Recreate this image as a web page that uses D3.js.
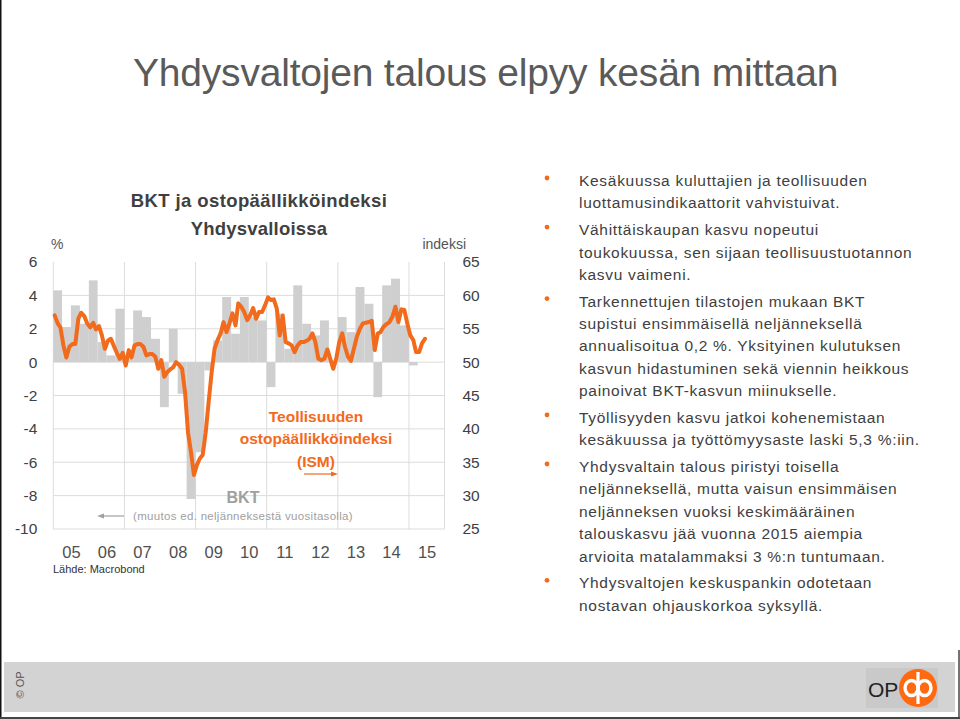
<!DOCTYPE html>
<html>
<head>
<meta charset="utf-8">
<script src="https://cdn.jsdelivr.net/npm/d3@7"></script>
<style>
  html, body { margin: 0; padding: 0; background: #fff; }
  svg { display: block; }
  text { font-family: "Liberation Sans", Arial, sans-serif; }
</style>
</head>
<body>
<svg id="chart" width="960" height="719"></svg>
<script>
// ---------------- DATA ----------------
const title = "Yhdysvaltojen talous elpyy kesän mittaan";
const chartTitle = ["BKT ja ostopäällikköindeksi", "Yhdysvalloissa"];

// Quarterly GDP growth, annualised q/q %, 2005Q1 .. 2015Q1
const gdpStart = [2005, 0];
const gdpValues = [4.3, 2.1, 3.4, 2.3, 4.9, 1.2, 0.4, 3.2, 0.2, 3.1, 2.7, 1.4,
  -2.7, 2.0, -1.9, -8.2, -5.4, -0.5, 1.3, 3.9, 1.7, 3.9, 2.7, 2.5,
  -1.5, 2.9, 0.8, 4.6, 2.3, 1.6, 2.5, 0.1, 2.7, 1.8, 4.5, 3.5,
  -2.1, 4.6, 5.0, 2.2, -0.2];

// Monthly ISM manufacturing index, 2005-01 .. 2015-06
const pmiStart = [2005, 0];
const pmiValues = [
  57.0, 55.8, 55.2, 52.5, 50.7, 52.3, 52.7, 52.7, 56.5, 57.4, 56.9, 55.8,
  55.2, 55.9, 54.9, 55.4, 54.0, 52.0, 53.2, 53.5, 52.4, 51.4, 50.5, 51.4,
  49.5, 51.8, 50.7, 52.5, 52.7, 52.7, 52.3, 51.0, 51.2, 51.2, 50.8, 49.0,
  50.3, 47.8, 48.5, 48.9, 49.2, 50.0, 49.6, 49.0, 45.5, 39.5, 36.5, 33.1,
  34.6, 35.6, 36.1, 39.5, 44.0, 48.5, 52.0, 53.3, 54.3, 56.0, 54.5, 55.8,
  57.3, 55.5, 58.8, 58.3, 57.5, 56.3, 57.0, 58.1, 56.5, 57.5, 57.5, 58.5,
  59.7, 59.3, 59.4, 58.0, 54.0, 57.0, 53.0, 52.8, 52.5, 51.5, 52.5, 53.0,
  53.0, 53.2, 53.5, 54.3, 53.0, 50.5, 50.3, 50.5, 51.9, 50.5, 49.0, 50.5,
  53.0, 54.3, 52.3, 50.8, 50.2, 52.0, 53.8, 55.0, 55.8, 55.9, 56.0, 56.2,
  51.8, 54.3, 54.5, 55.3, 55.7, 56.0, 56.8, 58.3, 56.0, 57.9, 57.8, 55.8,
  54.0, 53.3, 51.5, 51.5, 52.8, 53.5];

const leftTicks = [6, 4, 2, 0, -2, -4, -6, -8, -10];
const rightTicks = [65, 60, 55, 50, 45, 40, 35, 30, 25];
const yearTicks = [2005, 2006, 2007, 2008, 2009, 2010, 2011, 2012, 2013, 2014, 2015];
const gridYears = [2005, 2007, 2009, 2011, 2013, 2015, 2016];

const bullets = [
  ["Kesäkuussa kuluttajien ja teollisuuden", "luottamusindikaattorit vahvistuivat."],
  ["Vähittäiskaupan kasvu nopeutui", "toukokuussa, sen sijaan teollisuustuotannon", "kasvu vaimeni."],
  ["Tarkennettujen tilastojen mukaan BKT", "supistui ensimmäisellä neljänneksellä", "annualisoitua 0,2 %. Yksityinen kulutuksen", "kasvun hidastuminen sekä viennin heikkous", "painoivat BKT-kasvun miinukselle."],
  ["Työllisyyden kasvu jatkoi kohenemistaan", "kesäkuussa ja työttömyysaste laski 5,3 %:iin."],
  ["Yhdysvaltain talous piristyi toisella", "neljänneksellä, mutta vaisun ensimmäisen", "neljänneksen vuoksi keskimääräinen", "talouskasvu jää vuonna 2015 aiempia", "arvioita matalammaksi 3 %:n tuntumaan."],
  ["Yhdysvaltojen keskuspankin odotetaan", "nostavan ohjauskorkoa syksyllä."]
];

// ---------------- DRAW ----------------
const svg = d3.select("#chart");
const ORANGE = "#f26a1b";
const TXT = "#404040";

// slide frame
svg.append("line").attr("x1", 0.75).attr("x2", 0.75).attr("y1", 0).attr("y2", 719).attr("stroke", "#111").attr("stroke-width", 1.5);
svg.append("line").attr("x1", 0).attr("x2", 960).attr("y1", 718).attr("y2", 718).attr("stroke", "#444").attr("stroke-width", 2);
svg.append("line").attr("x1", 959).attr("x2", 959).attr("y1", 650).attr("y2", 719).attr("stroke", "#444").attr("stroke-width", 1.5);

// title
svg.append("text").attr("x", 133).attr("y", 86).attr("font-size", 39).attr("fill", "#5a5a5a")
  .attr("letter-spacing", -0.2).text(title);

// scales
const x = d3.scaleTime().domain([new Date(2005, 0, 1), new Date(2016, 0, 1)]).range([53.3, 444.5]);
const yL = d3.scaleLinear().domain([-10, 6]).range([529, 262]);
const yR = d3.scaleLinear().domain([25, 65]).range([529, 262]);

const plot = svg.append("g");

// grid
plot.selectAll("line.hg").data(leftTicks.filter(d => d < 6)).join("line")
  .attr("x1", x.range()[0]).attr("x2", x.range()[1])
  .attr("y1", d => yL(d)).attr("y2", d => yL(d))
  .attr("stroke", "#dcdcdc").attr("stroke-width", 1);
plot.selectAll("line.vg").data(gridYears).join("line")
  .attr("x1", d => x(new Date(d, 0, 1))).attr("x2", d => x(new Date(d, 0, 1)))
  .attr("y1", yL(6)).attr("y2", yL(-10))
  .attr("stroke", "#dcdcdc").attr("stroke-width", 1);

// bars
const gdp = gdpValues.map((v, i) => ({
  start: new Date(gdpStart[0], gdpStart[1] + 3 * i, 1),
  end: new Date(gdpStart[0], gdpStart[1] + 3 * (i + 1), 1),
  v
}));
plot.selectAll("rect.bar").data(gdp).join("rect")
  .attr("x", d => x(d.start))
  .attr("width", d => x(d.end) - x(d.start))
  .attr("y", d => yL(Math.max(0, d.v)))
  .attr("height", d => Math.abs(yL(d.v) - yL(0)))
  .attr("fill", "#cfcfcf");

// line
const pmi = pmiValues.map((v, i) => ({ date: new Date(pmiStart[0], pmiStart[1] + i, 15), v }));
plot.append("path").datum(pmi)
  .attr("d", d3.line().x(d => x(d.date)).y(d => yR(d.v)))
  .attr("fill", "none").attr("stroke", ORANGE).attr("stroke-width", 4)
  .attr("stroke-linejoin", "round").attr("stroke-linecap", "round");

// axes
const axL = svg.append("g").attr("transform", `translate(${x.range()[0]},0)`)
  .call(d3.axisLeft(yL).tickValues(leftTicks).tickSize(0).tickPadding(16).tickFormat(d => String(d)));
const axR = svg.append("g").attr("transform", `translate(${x.range()[1]},0)`)
  .call(d3.axisRight(yR).tickValues(rightTicks).tickSize(0).tickPadding(18).tickFormat(d => String(d)));
const axX = svg.append("g").attr("transform", `translate(0,${yL(-10)})`)
  .call(d3.axisBottom(x).tickValues(yearTicks.map(y => new Date(y, 6, 1))).tickSize(0).tickPadding(17)
    .tickFormat(d3.timeFormat("%y")));
[axL, axR].forEach(a => {
  a.select(".domain").remove();
  a.selectAll("text").attr("font-size", 15.5).attr("fill", TXT).attr("font-family", "Liberation Sans, Arial, sans-serif");
});
axX.select(".domain").remove();
axX.selectAll("text").attr("font-size", 16.5).attr("fill", "#505050").attr("font-family", "Liberation Sans, Arial, sans-serif");

// chart titles
svg.append("text").attr("x", 259).attr("y", 207).attr("text-anchor", "middle").attr("font-size", 18.5)
  .attr("letter-spacing", 0.4).attr("font-weight", "bold").attr("fill", TXT).text(chartTitle[0]);
svg.append("text").attr("x", 259).attr("y", 235).attr("text-anchor", "middle").attr("font-size", 18.5)
  .attr("letter-spacing", 0.2).attr("font-weight", "bold").attr("fill", TXT).text(chartTitle[1]);
svg.append("text").attr("x", 51).attr("y", 249).attr("font-size", 14).attr("fill", "#555").text("%");
svg.append("text").attr("x", 466).attr("y", 249).attr("text-anchor", "end").attr("font-size", 14).attr("fill", "#555").text("indeksi");

// annotations
const ism = svg.append("g").attr("fill", ORANGE).attr("font-size", 15.5).attr("font-weight", "bold").attr("text-anchor", "middle");
ism.append("text").attr("x", 316).attr("y", 422).text("Teollisuuden");
ism.append("text").attr("x", 316).attr("y", 444).text("ostopäällikköindeksi");
ism.append("text").attr("x", 316).attr("y", 467).text("(ISM)");
svg.append("line").attr("x1", 304).attr("x2", 333).attr("y1", 474).attr("y2", 474).attr("stroke", ORANGE).attr("stroke-width", 1.2);
svg.append("path").attr("d", "M338,474 L331,471.5 L331,476.5 Z").attr("fill", ORANGE);

svg.append("text").attr("x", 243).attr("y", 503).attr("text-anchor", "middle").attr("font-size", 16).attr("font-weight", "bold")
  .attr("fill", "#a0a0a0").text("BKT");
svg.append("text").attr("x", 243).attr("y", 520).attr("text-anchor", "middle").attr("font-size", 11.5)
  .attr("fill", "#a0a0a0").attr("letter-spacing", 0.3).text("(muutos ed. neljänneksestä vuositasolla)");
svg.append("line").attr("x1", 103).attr("x2", 124).attr("y1", 516).attr("y2", 516).attr("stroke", "#a0a0a0").attr("stroke-width", 1.2);
svg.append("path").attr("d", "M97,516 L104,513.5 L104,518.5 Z").attr("fill", "#a0a0a0");

svg.append("text").attr("x", 53).attr("y", 573).attr("font-size", 11).attr("fill", "#333").text("Lähde: Macrobond");

// bullets
const bg = svg.append("g");
let yPos = 186;
bullets.forEach(lines => {
  bg.append("circle").attr("cx", 547).attr("cy", yPos - 8).attr("r", 2.4).attr("fill", ORANGE);
  lines.forEach((ln, j) => {
    bg.append("text").attr("x", 579).attr("y", yPos).attr("font-size", 15.5).attr("fill", TXT)
      .attr("letter-spacing", 0.7).text(ln);
    yPos += 22.4;
  });
  yPos += 4.3;
});

// footer
svg.append("rect").attr("x", 4).attr("y", 662).attr("width", 951).attr("height", 50).attr("fill", "#d3d3d3");
svg.append("text").attr("transform", "translate(24,685) rotate(-90)").attr("text-anchor", "middle")
  .attr("font-size", 11).attr("fill", "#555").text("© OP");
svg.append("rect").attr("x", 866).attr("y", 668).attr("width", 72).attr("height", 40).attr("fill", "#c9c9c9");
svg.append("text").attr("x", 868).attr("y", 697).attr("font-size", 21).attr("fill", "#222")
  .attr("font-family", "DejaVu Sans Condensed, Liberation Sans Narrow, Liberation Sans").attr("font-weight", 300).text("OP");
const logo = svg.append("g").attr("transform", "translate(918,688)");
logo.append("circle").attr("r", 19).attr("fill", "#ff6a10");
logo.append("rect").attr("x", -1.6).attr("y", -16).attr("width", 3.2).attr("height", 32).attr("fill", "#fff");
logo.append("ellipse").attr("cx", -6.5).attr("cy", 0).attr("rx", 6.5).attr("ry", 7.5).attr("fill", "none").attr("stroke", "#fff").attr("stroke-width", 3.4);
logo.append("ellipse").attr("cx", 6.5).attr("cy", 0).attr("rx", 6.5).attr("ry", 7.5).attr("fill", "none").attr("stroke", "#fff").attr("stroke-width", 3.4);
</script>
</body>
</html>
